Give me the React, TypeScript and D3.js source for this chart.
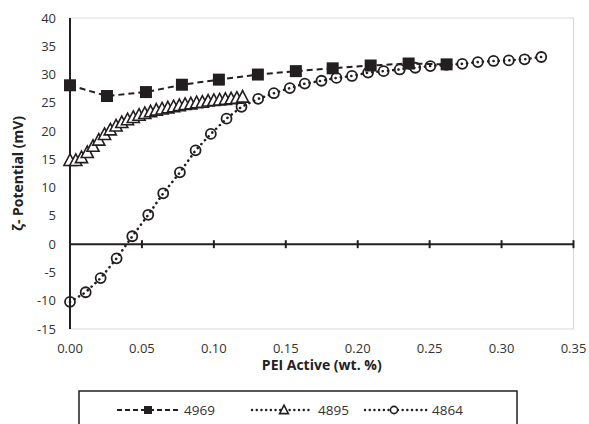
import React from "react";
import * as d3 from "d3";

const xTicks = [0, 0.05, 0.1, 0.15, 0.2, 0.25, 0.3, 0.35];
const yTicks = [-15, -10, -5, 0, 5, 10, 15, 20, 25, 30, 35, 40];

const x4969 = [0, 0.0257, 0.0528, 0.0778, 0.1035, 0.1306, 0.157, 0.1826, 0.209, 0.2354, 0.2618];
const y4969 = [28.1, 26.2, 26.9, 28.2, 29.1, 30.0, 30.6, 31.1, 31.6, 31.95, 31.8];

const x4895 = [0, 0.004, 0.008, 0.012, 0.016, 0.02, 0.024, 0.028, 0.032, 0.036, 0.04, 0.044, 0.048, 0.052, 0.056, 0.06, 0.064, 0.068, 0.072, 0.076, 0.08, 0.084, 0.088, 0.092, 0.096, 0.1, 0.104, 0.108, 0.112, 0.116, 0.12];
const y4895 = [14.8, 14.8, 15.3, 16.2, 17.3, 18.4, 19.4, 20.2, 20.9, 21.5, 22.0, 22.4, 22.8, 23.1, 23.4, 23.7, 23.9, 24.1, 24.3, 24.5, 24.7, 24.8, 25.0, 25.1, 25.3, 25.4, 25.5, 25.6, 25.7, 25.8, 26.0];

const x4864 = [0, 0.0109, 0.0213, 0.0324, 0.0433, 0.0544, 0.0648, 0.0764, 0.0873, 0.0979, 0.1088, 0.1192, 0.1308, 0.1417, 0.1528, 0.1632, 0.1748, 0.1852, 0.196, 0.2072, 0.218, 0.2292, 0.24, 0.2505, 0.2616, 0.2727, 0.2835, 0.2944, 0.305, 0.316, 0.3276];
const y4864 = [-10.2, -8.5, -6.0, -2.5, 1.4, 5.2, 9.0, 12.7, 16.6, 19.5, 22.2, 24.3, 25.7, 26.7, 27.6, 28.4, 28.9, 29.4, 29.75, 30.35, 30.6, 30.9, 31.2, 31.5, 31.7, 31.9, 32.2, 32.4, 32.5, 32.7, 33.1];

const INK = "#231f20";
const FONT = "'Open Sans', 'Noto Sans', sans-serif";

export default function App() {
  const x = d3.scaleLinear().domain([0, 0.35]).range([70, 573.5]);
  const y = d3.scaleLinear().domain([-15, 40]).range([329, 18]);
  const line = d3
    .line<[number, number]>()
    .x((d) => x(d[0]))
    .y((d) => y(d[1]));
  const pts = (xs: number[], ys: number[]) => xs.map((v, i) => [v, ys[i]] as [number, number]);
  const p69 = pts(x4969, y4969);
  const p95 = pts(x4895, y4895);
  const p64 = pts(x4864, y4864);
  const tri = (cx: number, cy: number, s: number) =>
    `M${cx},${cy - s * 0.6}L${cx + s * 0.55},${cy + s * 0.45}L${cx - s * 0.55},${cy + s * 0.45}Z`;

  const dotted = { strokeDasharray: "0.1 5.2", strokeLinecap: "round" as const, strokeWidth: 2.6 };

  return (
    <svg
      width={589}
      height={424}
      style={{ position: "absolute", left: 0, top: 0, background: "#fff" }}
      fontFamily={FONT}
    >
      <rect x={0} y={0} width={589} height={424} fill="#fff" />
      {/* plot border */}
      <rect x={x(0)} y={y(40)} width={x(0.35) - x(0)} height={y(-15) - y(40)} fill="none" stroke="#d9d9d9" strokeWidth={1} />
      {/* y axis */}
      <line x1={x(0)} x2={x(0)} y1={y(40)} y2={y(-15)} stroke={INK} strokeWidth={2} />
      {yTicks.map((t) => (
        <text key={t} x={56} y={y(t)} dy="0.35em" textAnchor="end" fontSize={13} fill="#333">
          {t}
        </text>
      ))}
      {/* x axis at 0 */}
      <line x1={x(0)} x2={x(0.35)} y1={y(0)} y2={y(0)} stroke={INK} strokeWidth={2} />
      {xTicks.map((t) => (
        <g key={t}>
          <line x1={x(t)} x2={x(t)} y1={y(0) - 4} y2={y(0) + 4} stroke={INK} strokeWidth={2} />
          <text x={x(t)} y={348} dy="0.35em" textAnchor="middle" fontSize={13} fill="#333">
            {t.toFixed(2)}
          </text>
        </g>
      ))}
      <text x={(x(0) + x(0.35)) / 2} y={365} dy="0.35em" textAnchor="middle" fontSize={14} fontWeight="bold" fill="#222">
        PEI Active (wt. %)
      </text>
      <text
        transform={`translate(18,${(y(40) + y(-15)) / 2}) rotate(-90)`}
        textAnchor="middle"
        dy="0.35em"
        fontSize={14}
        fontWeight="bold"
        fill="#222"
      >
        ζ- Potential (mV)
      </text>

      {/* series 4864 */}
      <path d={line(p64) || ""} fill="none" stroke={INK} {...dotted} />
      {p64.map((d, i) => (
        <circle key={i} cx={x(d[0])} cy={y(d[1])} r={5} fill="none" stroke={INK} strokeWidth={1.8} />
      ))}
      {/* series 4895 */}
      <path d={line(p95) || ""} fill="none" stroke={INK} {...dotted} />
      {p95.map((d, i) => (
        <path key={i} d={tri(x(d[0]), y(d[1]), 11)} fill="#fff" stroke={INK} strokeWidth={1.6} />
      ))}
      {/* series 4969 */}
      <path d={line(p69) || ""} fill="none" stroke={INK} strokeWidth={2} strokeDasharray="6 4" />
      {p69.map((d, i) => (
        <rect key={i} x={x(d[0]) - 6} y={y(d[1]) - 6} width={12} height={12} fill={INK} />
      ))}

      {/* legend */}
      <rect x={79} y={391} width={438} height={45} fill="none" stroke={INK} strokeWidth={1.5} />
      <line x1={117} x2={180} y1={410} y2={410} stroke={INK} strokeWidth={2} strokeDasharray="5 3" />
      <rect x={144} y={406} width={8} height={8} fill={INK} />
      <text x={184} y={410} dy="0.35em" fontSize={13.5} fill="#333">4969</text>
      <line x1={252} x2={313} y1={410} y2={410} stroke={INK} {...dotted} strokeWidth={2.4} strokeDasharray="0.1 4.6" />
      <path d={tri(284, 410, 8)} fill="#fff" stroke={INK} strokeWidth={1.6} />
      <text x={318} y={410} dy="0.35em" fontSize={13.5} fill="#333">4895</text>
      <line x1={365} x2={427} y1={410} y2={410} stroke={INK} {...dotted} strokeWidth={2.4} strokeDasharray="0.1 4.6" />
      <circle cx={394} cy={410} r={3.6} fill="#fff" stroke={INK} strokeWidth={1.6} />
      <text x={432} y={410} dy="0.35em" fontSize={13.5} fill="#333">4864</text>
    </svg>
  );
}
